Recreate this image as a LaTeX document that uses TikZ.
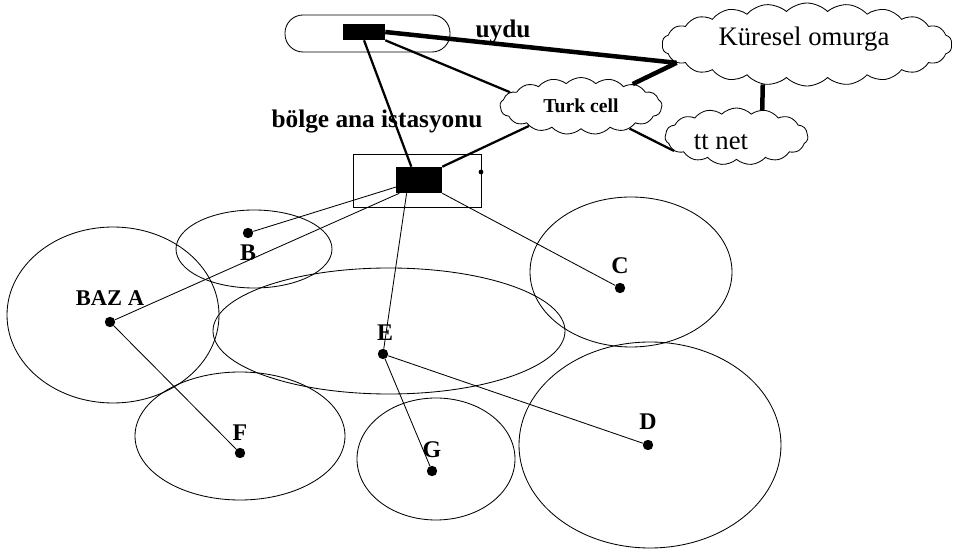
\documentclass[tikz,border=0pt]{standalone}
\usepackage{fontspec}
\setmainfont{Liberation Serif}
\usetikzlibrary{shapes.symbols, shapes.geometric}

\begin{document}
\begin{tikzpicture}[
    x=0.25mm, y=-0.25mm,
    bulut/.style={draw, cloud, cloud ignores aspect, cloud puffs=#1, cloud puff arc=90, inner sep=0pt, line width=0.6pt},
    bulut/.default=14,
    kutu/.style={fill=black, inner sep=0pt},
    baz/.style={circle, fill=black, inner sep=0pt, minimum size=2.6mm},
    harf/.style={font=\fontsize{17}{17}\selectfont\bfseries, inner sep=0pt},
    hucre/.style={line width=0.6pt},
    kalin/.style={line width=3.2pt},
    orta/.style={line width=1.6pt},
    ince/.style={line width=0.6pt}
]
    \useasboundingbox (0,0) rectangle (956,552);

    % Uydu
    \node[draw, rounded corners=4.5mm, minimum width=41.25mm, minimum height=9.25mm, line width=0.6pt] (yorunge) at (367.5,33.5) {};
    \node[kutu, minimum width=10.5mm, minimum height=4mm] (uydu) at (364,32) {};
    \node[font=\fontsize{18}{18}\selectfont\bfseries] (uyduyazi) at (503,31) {uydu};

    % Bulutlar
    \node[bulut=22, minimum width=72.5mm, minimum height=20.75mm] (kuresel) at (807,44.5) {};
    \node[font=\fontsize{19}{19}\selectfont] (kureselyazi) at (804,39) {Küresel omurga};
    \node[bulut=17, minimum width=40.5mm, minimum height=14.25mm, font=\fontsize{14}{14}\selectfont\bfseries] (turkcell) at (581,106) {Turk cell};
    \node[bulut=15, minimum width=35.75mm, minimum height=14.25mm] (ttnet) at (736.5,136.5) {};
    \node[font=\fontsize{19}{19}\selectfont] (ttyazi) at (721,142) {tt net};

    % Bolge ana istasyonu
    \node[font=\fontsize{18}{18}\selectfont\bfseries] (bolgeyazi) at (377,122) {bölge ana istasyonu};
    \node[draw, line width=0.6pt, minimum width=32mm, minimum height=13.25mm] (istasyon) at (417,180.5) {};
    \node[kutu, minimum width=11.5mm, minimum height=6.5mm] (anakutu) at (419,180) {};
    \node[baz, minimum size=1.2mm] (nokta) at (481,172) {};

    % Omurga baglantilari
    \draw[kalin] (uydu.east) -- (kuresel.188);
    \draw[kalin] (turkcell.23) -- (kuresel.188);
    \draw[kalin] (kuresel.222) -- (ttnet.46);
    \draw[orta] (turkcell.335) -- (ttnet.193);
    \draw[orta] (uydu.south east) -- (turkcell.169);
    \draw[orta] (uydu.south) -- (anakutu.120);
    \draw[orta] (anakutu.north east) -- (turkcell.201);

    % Hucreler
    \draw[hucre] (113,315) ellipse (106 and 88);
    \draw[hucre] (254,249) ellipse (78 and 39);
    \draw[hucre] (389,331) ellipse (176 and 63);
    \draw[hucre] (631,272) ellipse (101 and 75);
    \draw[hucre] (240,436) ellipse (105 and 64);
    \draw[hucre] (436,459) ellipse (79 and 61);
    \draw[hucre] (650,445) ellipse (131 and 103);

    % Baz istasyonlari
    \node[baz] (a) at (110,322) {};
    \node[baz] (b) at (248,233) {};
    \node[baz] (c) at (620,288) {};
    \node[baz] (d) at (648,445) {};
    \node[baz] (e) at (383,354) {};
    \node[baz] (f) at (240,453) {};
    \node[baz] (g) at (432,471) {};

    \node[harf, font=\fontsize{16}{16}\selectfont\bfseries] (ayazi) at (110,298) {BAZ A};
    \node[harf] (byazi) at (248,253) {B};
    \node[harf] (cyazi) at (620,266) {C};
    \node[harf] (dyazi) at (648,422) {D};
    \node[harf] (eyazi) at (385,333) {E};
    \node[harf] (fyazi) at (240,433) {F};
    \node[harf] (gyazi) at (432,450) {G};

    % Baglantilar
    \draw[ince] (anakutu.197) -- (b);
    \draw[ince] (anakutu.214) -- (a);
    \draw[ince] (anakutu.227) -- (e);
    \draw[ince] (anakutu.south east) -- (c);
    \draw[ince] (a) -- (f);
    \draw[ince] (e) -- (g);
    \draw[ince] (e) -- (d);
\end{tikzpicture}
\end{document}
